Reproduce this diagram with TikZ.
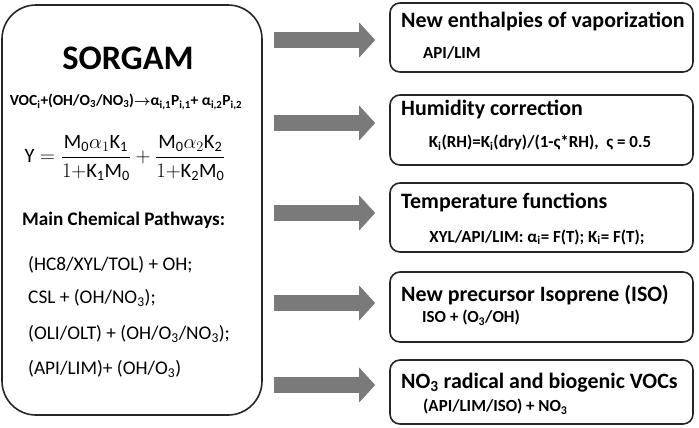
\documentclass[tikz,border=0pt]{standalone}
\usepackage{amsmath}
\usepackage{fontspec}
\setmainfont{Carlito}
\usetikzlibrary{arrows.meta}
\begin{document}
\begin{tikzpicture}[x=1bp,y=-1bp,
  lbox/.style={draw=black!85,line width=1.6bp,rounded corners=34bp,minimum width=260bp,minimum height=410bp,inner sep=0pt},
  rbox/.style={draw=black!85,line width=1.6bp,rounded corners=10bp,minimum width=303bp,inner sep=0pt},
  ttl/.style={anchor=west,inner sep=0pt,font=\fontsize{22}{24}\selectfont\bfseries},
  sub/.style={inner sep=0pt,font=\fontsize{17}{19}\selectfont\bfseries},
  path/.style={anchor=west,inner sep=0pt,font=\fontsize{19.4}{21}\selectfont},
  bigarrow/.style={draw=none,fill=black!52,line width=16bp,-{Triangle[length=16bp 0 0,width=34bp 0 0]},shorten <=11bp,shorten >=14bp}
]
\useasboundingbox (0,0) rectangle (699,427);

% model box
\node[lbox] (sorgam) at (132,210) {};
\node[inner sep=0pt,font=\fontsize{34.5}{36}\selectfont\bfseries] (title) at (128,58) {SORGAM};
\node[inner sep=0pt,font=\fontsize{15.5}{17}\selectfont\bfseries] (react) at (126,102)
  {VOC\textsubscript{i}+(OH/O\textsubscript{3}/NO\textsubscript{3})$\boldsymbol{\rightarrow}$α\textsubscript{i,1}P\textsubscript{i,1}+ α\textsubscript{i,2}P\textsubscript{i,2}};
\node[inner sep=0pt,font=\fontsize{20.5}{22}\selectfont] (yield) at (125,158)
  {$\mathrm{Y}=\dfrac{\mathrm{M_0}\alpha_1\mathrm{K_1}}{1{+}\mathrm{K_1M_0}}+\dfrac{\mathrm{M_0}\alpha_2\mathrm{K_2}}{1{+}\mathrm{K_2M_0}}$};
\node[anchor=west,inner sep=0pt,font=\fontsize{19.2}{21}\selectfont\bfseries] (main) at (22,220) {Main Chemical Pathways:};
\node[path] (p1) at (28,265) {(HC8/XYL/TOL) + OH;};
\node[path] (p2) at (28,298) {CSL + (OH/NO\textsubscript{3});};
\node[path] (p3) at (28,334) {(OLI/OLT) + (OH/O\textsubscript{3}/NO\textsubscript{3});};
\node[path] (p4) at (28,369) {(API/LIM)+ (OH/O\textsubscript{3})};

% update boxes
\node[rbox,minimum height=69bp] (n1) at (541.5,37.5) {};
\node[rbox,minimum height=70bp] (n2) at (541.5,130) {};
\node[rbox,minimum height=69bp] (n3) at (541.5,217.5) {};
\node[rbox,minimum height=70bp] (n4) at (541.5,307) {};
\node[rbox,minimum height=64bp] (n5) at (541.5,392) {};

\node[ttl] (t1) at (401,22) {New enthalpies of vaporization};
\node[sub,anchor=west] (s1) at (423,53) {API/LIM};
\node[ttl] (t2) at (401,110) {Humidity correction};
\node[sub] (s2) at (540,143) {K\textsubscript{i}(RH)=K\textsubscript{i}(dry)/(1-ς*RH),\ \ ς = 0.5};
\node[ttl] (t3) at (401,203) {Temperature functions};
\node[sub] (s3) at (537,237) {XYL/API/LIM: α\textsubscript{i}= F(T); K\textsubscript{i}= F(T);};
\node[ttl] (t4) at (401,295) {New precursor Isoprene (ISO)};
\node[sub,anchor=west] (s4) at (422,318) {ISO + (O\textsubscript{3}/OH)};
\node[ttl] (t5) at (401,383) {NO\textsubscript{3} radical and biogenic VOCs};
\node[sub,anchor=west] (s5) at (423,407) {(API/LIM/ISO) + NO\textsubscript{3}};

% block arrows
\coordinate (a1) at (0,40);
\coordinate (a2) at (0,123);
\coordinate (a3) at (0,213);
\coordinate (a4) at (0,303);
\coordinate (a5) at (0,385);
\foreach \i in {1,...,5}
  \draw[bigarrow,draw=black!52] (sorgam.east |- a\i) -- (n\i.west |- a\i);
\end{tikzpicture}
\end{document}
